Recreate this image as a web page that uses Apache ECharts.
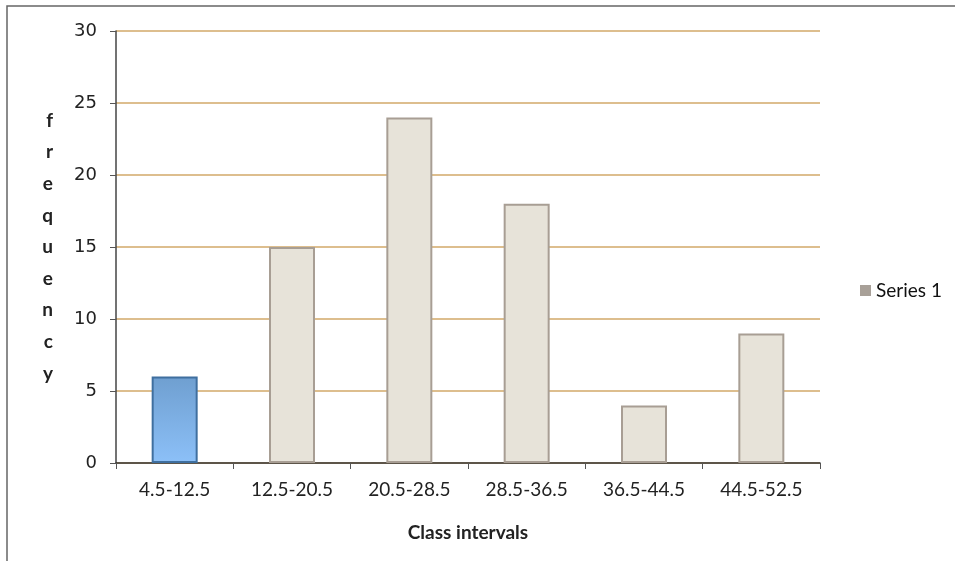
<!DOCTYPE html>
<html>
<head>
<meta charset="utf-8">
<script src="https://cdn.jsdelivr.net/npm/echarts@6/dist/echarts.min.js"></script>
<style>
html,body{margin:0;padding:0;background:#fff;}
#chart{width:955px;height:561px;}
</style>
</head>
<body>
<div id="chart"></div>
<script>
var categories = ['4.5-12.5', '12.5-20.5', '20.5-28.5', '28.5-36.5', '36.5-44.5', '44.5-52.5'];
var frequency = [6, 15, 24, 18, 4, 9];
var yTicks = [0, 5, 10, 15, 20, 25, 30];

var myChart = echarts.init(document.getElementById('chart'));

var barData = frequency.map(function (v, i) {
    if (i === 0) {
        // first bar looks blue in the picture
        return {
            value: v,
            itemStyle: {
                color: new echarts.graphic.LinearGradient(0, 0, 0, 1, [
                    {offset: 0, color: '#6f9fd0'},
                    {offset: 1, color: '#8cc0f8'}
                ]),
                borderColor: '#3f6f9f'
            }
        };
    }
    return v;
});

var option = {
    animation: false,
    graphic: [{
        type: 'rect',
        shape: {x: 7, y: 6, width: 960, height: 600},
        style: {fill: 'none', stroke: '#666', lineWidth: 1.5},
        silent: true
    }],
    grid: {left: 116, right: 135, top: 31, bottom: 98},
    legend: {
        data: ['Series 1'],
        orient: 'vertical',
        left: 855,
        top: 276,
        itemWidth: 11,
        itemHeight: 11,
        itemGap: 6,
        icon: 'rect',
        itemStyle: {color: '#a8a098', borderWidth: 0},
        textStyle: {fontFamily: 'Lato', fontSize: 19, color: '#111'}
    },
    xAxis: {
        type: 'category',
        data: categories,
        name: 'Class intervals',
        nameLocation: 'middle',
        nameGap: 60,
        nameTextStyle: {fontFamily: 'Lato', fontWeight: 'bold', fontSize: 19, color: '#222'},
        axisLine: {lineStyle: {color: '#333', width: 1.5}},
        axisTick: {show: true, alignWithLabel: false, length: 6, lineStyle: {color: '#555'}},
        axisLabel: {fontFamily: 'Lato', fontSize: 19, color: '#222', margin: 17},
        splitLine: {show: false}
    },
    yAxis: {
        type: 'value',
        min: yTicks[0],
        max: yTicks[yTicks.length - 1],
        interval: 5,
        name: 'f\nr\ne\nq\nu\ne\nn\nc\ny',
        nameLocation: 'middle',
        nameRotate: 0,
        nameGap: 63,
        nameTextStyle: {fontFamily: 'Lato', fontWeight: 'bold', fontSize: 19, color: '#222', lineHeight: 31.6, padding: [9, 0, 0, 0]},
        axisLine: {show: true, lineStyle: {color: '#444', width: 1.5}},
        axisTick: {show: true, length: 6, lineStyle: {color: '#555'}},
        axisLabel: {fontFamily: 'DejaVu Sans', fontSize: 18, color: '#222', margin: 19},
        splitLine: {lineStyle: {color: '#d2a868', width: 1.5}}
    },
    series: [{
        name: 'Series 1',
        type: 'bar',
        data: barData,
        barWidth: 46,
        itemStyle: {
            color: '#e7e3d9',
            borderColor: '#a89e94',
            borderWidth: 2
        }
    }]
};

myChart.setOption(option);
window.addEventListener('resize', function () {myChart.resize();});
</script>
</body>
</html>
